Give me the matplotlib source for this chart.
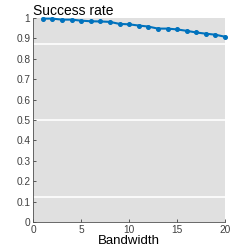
import matplotlib
matplotlib.use("Agg")
import matplotlib.pyplot as plt

plt.rcParams['font.family'] = ['Liberation Sans', 'DejaVu Sans']

# data
bandwidth = list(range(1, 21))
success = [0.997, 0.997, 0.992, 0.992, 0.987, 0.984, 0.983, 0.981, 0.971, 0.969,
           0.963, 0.958, 0.948, 0.948, 0.944, 0.937, 0.929, 0.923, 0.918, 0.908]
yticks = [0, 0.1, 0.2, 0.3, 0.4, 0.5, 0.6, 0.7, 0.8, 0.9, 1]
ytick_labels = ['0', '0.1', '0.2', '0.3', '0.4', '0.5', '0.6', '0.7', '0.8', '0.9', '1']
xticks = [0, 5, 10, 15, 20]

fig = plt.figure(figsize=(2.49, 2.5), dpi=100)
ax = fig.add_axes([0.133, 0.112, 0.771, 0.816])
ax.set_facecolor('#e0e0e0')

# white stripes seen in the reference
for yv in [0.125, 0.5, 0.875]:
    ax.axhline(yv, color='white', lw=1.2, zorder=1)

ax.plot(bandwidth, success, color='#0072BD', lw=1.5, marker='o', ms=2.6, zorder=3,
        clip_on=False)

ax.set_xlim(0, 20)
ax.set_ylim(0, 1)
ax.set_xticks(xticks)
ax.set_yticks(yticks)
ax.set_yticklabels(ytick_labels)
ax.tick_params(direction='in', length=2, width=0.6, labelsize=7.3, colors='#404040', pad=2)
for s in ['top', 'right']:
    ax.spines[s].set_visible(False)
for s in ['left', 'bottom']:
    ax.spines[s].set_color('#505050')
    ax.spines[s].set_linewidth(0.6)

ax.set_title('Success rate', loc='left', fontsize=10, pad=1)
ax.set_xlabel('Bandwidth', fontsize=9.5, labelpad=0)

fig.savefig('out.png', dpi=100)
